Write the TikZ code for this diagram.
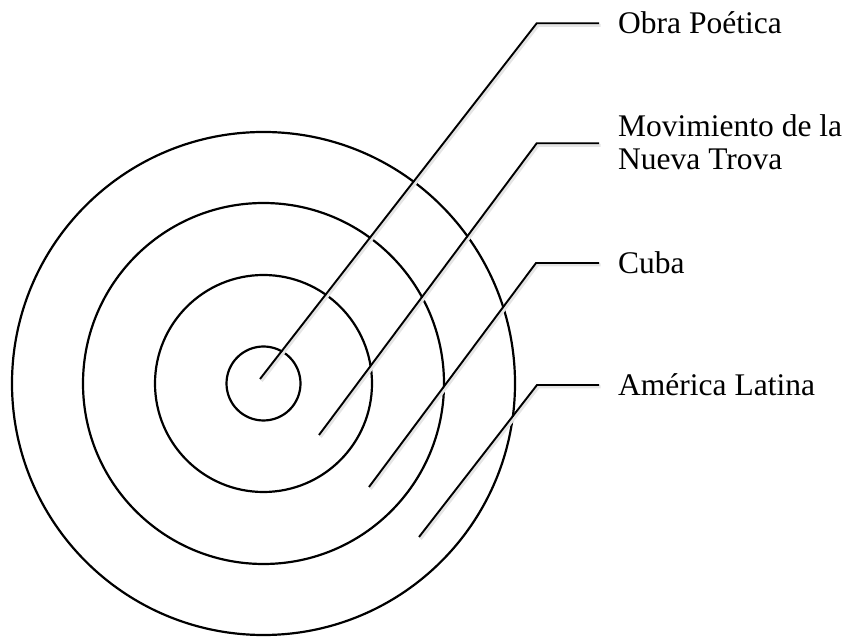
\documentclass[tikz,border=0pt]{standalone}
\usepackage{fontspec}
\setmainfont{Liberation Serif}
\begin{document}
\begin{tikzpicture}[x=1pt,y=1pt,
  ring/.style={circle,draw=black,line width=2.2pt,inner sep=0pt},
  lead/.style={line width=1.9pt,line join=miter},
  leadshadow/.style={line width=3pt,draw=black!10},
  lbl/.style={inner sep=0pt,font=\fontsize{31.5}{33}\selectfont,align=left}]
\useasboundingbox (0,0) rectangle (849,637);
% rings
\node[ring,minimum size=74pt]  (c1) at (263.5,253.5) {};
\node[ring,minimum size=217pt] (c2) at (263.5,253.5) {};
\node[ring,minimum size=361pt] (c3) at (263.5,253.5) {};
\node[ring,minimum size=503pt] (c4) at (263.5,253.5) {};
% labels
\node[lbl,anchor=base west] (t1) at (618,603.5) {Obra Poética};
\node[lbl,anchor=base west] (t2) at (618,467) {Movimiento de la\\Nueva Trova};
\node[lbl,anchor=base west] (t3) at (618,363) {Cuba};
\node[lbl,anchor=base west] (t4) at (618,241.3) {América Latina};
% leader coordinates
\coordinate (s1) at (260,258);   \coordinate (b1) at (536.7,613.7); \coordinate (e1) at (599,613.7);
\coordinate (s2) at (319,202);   \coordinate (b2) at (536.7,493.7); \coordinate (e2) at (599,493.7);
\coordinate (s3) at (369,150);   \coordinate (b3) at (536,374);     \coordinate (e3) at (599,374);
\coordinate (s4) at (419,100);   \coordinate (b4) at (537,252);     \coordinate (e4) at (599,252);
% shadows
\foreach \i in {1,2,3,4}{
  \draw[leadshadow] ([shift={(1.5,-2)}]s\i) -- ([shift={(1.5,-2)}]b\i) -- ([shift={(1.5,-2)}]e\i);
}
% leaders
\foreach \i in {1,2,3,4}{
  \draw[lead] (s\i) -- (b\i) -- (e\i);
}
\end{tikzpicture}
\end{document}
